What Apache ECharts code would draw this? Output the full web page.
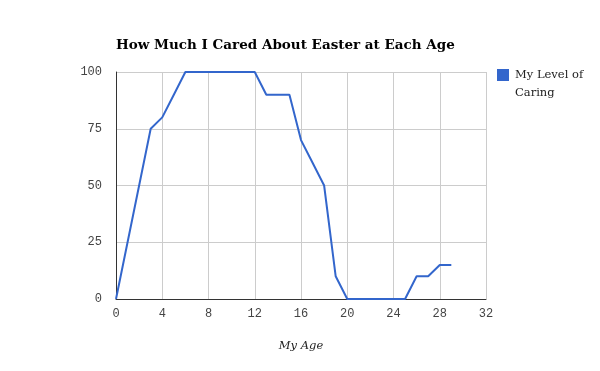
<!DOCTYPE html>
<html><head><meta charset="utf-8">
<script src="https://cdn.jsdelivr.net/npm/echarts@6/dist/echarts.min.js"></script>
<style>html,body{margin:0;padding:0;background:#fff}#c{width:600px;height:371px}</style>
</head><body><div id="c"></div>
<script>
var ages = [0,1,2,3,4,5,6,7,8,9,10,11,12,13,14,15,16,17,18,19,20,21,22,23,24,25,26,27,28,29];
var caring = [0,25,50,75,80,90,100,100,100,100,100,100,100,90,90,90,70,60,50,10,0,0,0,0,0,0,10,10,15,15];
var seriesName = 'My Level of Caring';
var legendLines = ['My Level of', 'Caring'];
var titleText = 'How Much I Cared About Easter at Each Age';
var xName = 'My Age';

var chart = echarts.init(document.getElementById('c'), null, {renderer:'canvas'});
chart.setOption({
  animation:false,
  title:{text:titleText,left:116,top:38,padding:0,textStyle:{fontFamily:'DejaVu Serif',fontWeight:'bold',fontSize:13.5,color:'#000'}},
  legend:{orient:'vertical',left:497,top:69,padding:0,itemWidth:12,itemHeight:12,icon:'rect',
    formatter:function(){return legendLines[0];},
    textStyle:{fontFamily:'DejaVu Serif',fontSize:11.5,color:'#222',padding:[0,0,0,1]}},
  graphic:[{type:'text',left:515,top:87,style:{text:legendLines[1],font:'11.5px "DejaVu Serif"',fill:'#222'}}],
  grid:{left:116,right:114,top:72,bottom:72,containLabel:false},
  xAxis:{type:'value',min:0,max:32,interval:4,name:xName,nameLocation:'middle',nameGap:41,
    nameTextStyle:{fontFamily:'DejaVu Serif',fontStyle:'italic',fontSize:11.5,color:'#222'},
    axisLine:{show:true,onZero:false,lineStyle:{color:'#333',width:1}},axisTick:{show:false},
    axisLabel:{fontFamily:'Liberation Mono',fontSize:12,color:'#444',margin:9},
    splitLine:{show:true,lineStyle:{color:'#ccc',width:1}}},
  yAxis:{type:'value',min:0,max:100,interval:25,
    axisLine:{show:true,lineStyle:{color:'#333',width:1}},axisTick:{show:false},
    axisLabel:{fontFamily:'Liberation Mono',fontSize:12,color:'#444',margin:14},
    splitLine:{show:true,lineStyle:{color:'#ccc',width:1}}},
  series:[{name:seriesName,type:'line',data:ages.map(function(a,i){return [a,caring[i]];}),
    showSymbol:false,symbol:'none',lineStyle:{color:'#3366cc',width:2},itemStyle:{color:'#3366cc'}}]
});
</script></body></html>
